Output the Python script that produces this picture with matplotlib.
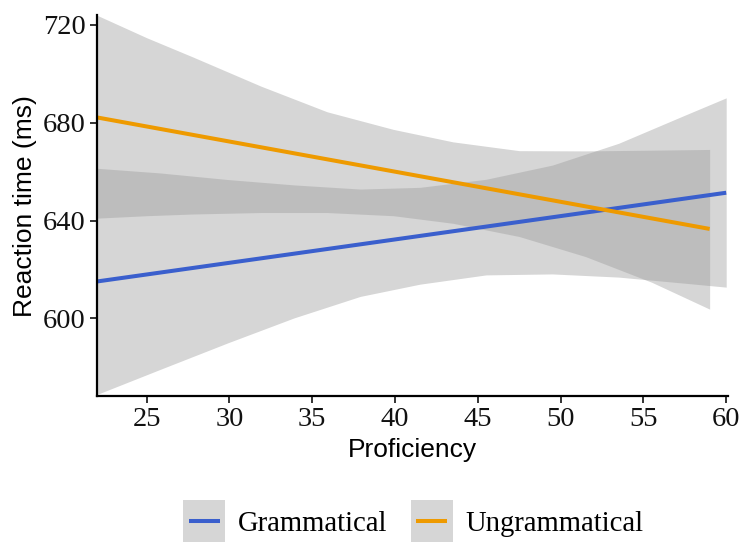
import matplotlib
matplotlib.use("Agg")
import matplotlib.pyplot as plt
from matplotlib.patches import Rectangle
from matplotlib.lines import Line2D

# regression lines (end points)
gram_x = [22, 60]
gram_fit = [615.1, 651.4]
ungram_x = [22, 59]
ungram_fit = [682.2, 636.6]

# confidence bands (read at several proficiency values)
gram_band_x = [22, 25.8, 29.9, 33.9, 37.9, 41.5, 45.5, 49.5, 53.5, 57.5, 60]
gram_lower = [568.9, 579.1, 590.0, 600.2, 609.0, 614.0, 617.8, 618.2, 616.9, 614.4, 612.8]
gram_upper = [661.4, 659.5, 656.8, 654.6, 652.9, 653.6, 656.9, 662.7, 671.6, 683.1, 690.2]

ungram_band_x = [22, 25, 27.8, 31.9, 35.9, 39.9, 43.5, 47.5, 51.5, 55.5, 59]
ungram_lower = [641.0, 642.0, 642.7, 643.3, 643.3, 642.0, 638.9, 633.5, 625.3, 614.8, 603.8]
ungram_upper = [724.0, 714.8, 706.9, 695.0, 684.5, 677.3, 672.2, 668.6, 668.5, 668.8, 669.1]

x_ticks = [25, 30, 35, 40, 45, 50, 55, 60]
y_ticks = [600, 640, 680, 720]
labels = ["Grammatical", "Ungrammatical"]

blue = "#3A5FCD"
orange = "#EE9A00"
band = "#999999"
key_fill = "#d6d6d6"
lw = 2.9


class KeyHandler:
    # ggplot-like key: grey square with a short line, centred on the text
    def legend_artist(self, legend, orig_handle, fontsize, handlebox):
        x0, y0 = handlebox.xdescent, handlebox.ydescent
        w, h = handlebox.width, handlebox.height
        yc = y0 + h / 2
        tr = handlebox.get_transform()
        rect = Rectangle((x0, yc - w / 2), w, w, facecolor=key_fill,
                         edgecolor="none", transform=tr)
        line = Line2D([x0 + 0.13 * w, x0 + 0.87 * w], [yc, yc],
                      color=orig_handle.get_color(), lw=lw, solid_capstyle="butt", transform=tr)
        handlebox.add_artist(rect)
        handlebox.add_artist(line)
        return rect


fig = plt.figure(figsize=(7.45, 5.42), dpi=100)
ax = fig.add_axes([0.130, 0.269, 0.847, 0.703])

ax.fill_between(gram_band_x, gram_lower, gram_upper, color=band, alpha=0.4, lw=0)
ax.plot(gram_x, gram_fit, color=blue, lw=lw, solid_capstyle="butt")
ax.fill_between(ungram_band_x, ungram_lower, ungram_upper, color=band, alpha=0.4, lw=0)
ax.plot(ungram_x, ungram_fit, color=orange, lw=lw, solid_capstyle="butt")

ax.set_xlim(22, 60.1)
ax.set_ylim(568.2, 724)
ax.set_xticks(x_ticks)
ax.set_yticks(y_ticks)

for side in ["top", "right"]:
    ax.spines[side].set_visible(False)
for side in ["left", "bottom"]:
    ax.spines[side].set_linewidth(1.6)
    ax.spines[side].set_color("black")

ax.tick_params(direction="out", length=5, width=1.4, color="#333333",
               labelsize=20.5, labelcolor="#111111", pad=3)
for lab in ax.get_xticklabels() + ax.get_yticklabels():
    lab.set_family("Liberation Serif")

ax.set_xlabel("Proficiency", family="Liberation Sans", fontsize=19, labelpad=4)
ax.set_ylabel("Reaction time (ms)", family="Liberation Sans", fontsize=19, labelpad=4)

handles = [Line2D([], [], color=blue), Line2D([], [], color=orange)]
fig.legend(handles, labels, loc="center",
           bbox_to_anchor=(0.555, 0.034), ncol=2, frameon=False,
           prop={"family": "Liberation Serif", "size": 20.6},
           handler_map={Line2D: KeyHandler()},
           handlelength=1.47, handleheight=0.7, handletextpad=0.45,
           columnspacing=0.8, borderpad=0, borderaxespad=0)

fig.savefig("out.png", dpi=100)
